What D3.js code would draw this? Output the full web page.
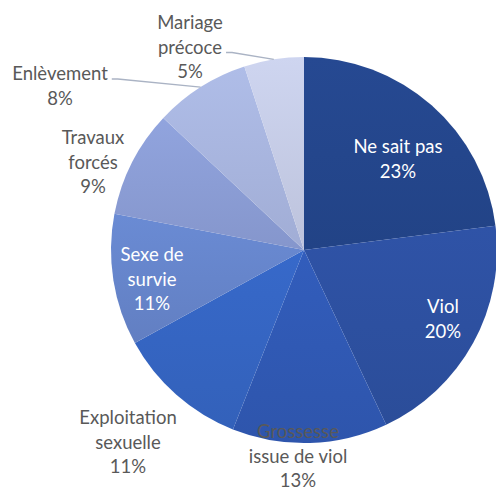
<!DOCTYPE html>
<html>
<head>
<meta charset="utf-8">
<script src="https://cdn.jsdelivr.net/npm/d3@7"></script>
<style>
  body { margin: 0; background: #fff; }
  svg text { font-family: Lato, "Open Sans", sans-serif; font-size: 18.5px; }
</style>
</head>
<body>
<div id="chart"></div>
<script>
// Categories (label lines) and shares in %
const categories = [
  ["Ne sait pas"],
  ["Viol"],
  ["Grossesse", "issue de viol"],
  ["Exploitation", "sexuelle"],
  ["Sexe de", "survie"],
  ["Travaux", "forcés"],
  ["Enlèvement"],
  ["Mariage", "précoce"]
];
const values = [23, 20, 13, 11, 11, 9, 8, 5];
const colors = ["#24468c", "#2d50a0", "#3059b4", "#3565c2", "#6685cb", "#8b9dd5", "#a8b5de", "#c5cce6"];

// label placement relative to pie centre (x, y of first line) and text colour
const labelLayout = [
  { x: 94, y: -103, fill: "#fff" },
  { x: 139, y: 57, fill: "#fff" },
  { x: -6, y: 182, fill: "#595959" },
  { x: -176, y: 168, fill: "#595959" },
  { x: -152, y: 5, fill: "#fff" },
  { x: -211, y: -112, fill: "#595959" },
  { x: -244, y: -176, fill: "#595959", leader: true },
  { x: -114, y: -227, fill: "#595959", leader: true }
];

const W = 496, H = 490;
const cx = 304, cy = 250, r = 193;
const lineH = 24.5;

const svg = d3.select("#chart").append("svg")
  .attr("width", W).attr("height", H);

const defs = svg.append("defs");
colors.forEach((c, i) => {
  const g = defs.append("linearGradient")
    .attr("id", "grad" + i)
    .attr("x1", 0).attr("y1", 0).attr("x2", 0).attr("y2", 1);
  g.append("stop").attr("offset", "0%").attr("stop-color", d3.color(c).brighter(0.12));
  g.append("stop").attr("offset", "100%").attr("stop-color", d3.color(c).darker(0.12));
});

const pie = d3.pie().sort(null).value(d => d)(values);
const arc = d3.arc().innerRadius(0).outerRadius(r);

const g = svg.append("g").attr("transform", `translate(${cx},${cy})`);

g.selectAll("path.slice")
  .data(pie)
  .join("path")
  .attr("class", "slice")
  .attr("d", arc)
  .attr("fill", (d, i) => `url(#grad${i})`);

const lineLayer = g.append("g");

// labels
const edgeArc = d3.arc().innerRadius(r).outerRadius(r);
pie.forEach((d, i) => {
  const L = labelLayout[i];
  const lines = categories[i].concat([values[i] + "%"]);
  const t = g.append("text")
    .attr("text-anchor", "middle")
    .attr("fill", L.fill)
    .attr("x", L.x)
    .attr("y", L.y);
  const spans = lines.map((s, k) => t.append("tspan")
    .attr("x", L.x)
    .attr("y", L.y + k * lineH)
    .attr("dy", "0.35em")
    .text(s));

  // leader line from end of the last name line to the slice edge
  if (L.leader) {
    const k = categories[i].length - 1;
    const w = spans[k].node().getComputedTextLength();
    const sx = L.x + w / 2 + 4;
    const sy = L.y + k * lineH + 5;
    const end = edgeArc.centroid(d);
    lineLayer.append("polyline")
      .attr("points", [[sx, sy], [sx + 6, sy], end].map(p => p.join(",")).join(" "))
      .attr("fill", "none")
      .attr("stroke", "#aab3c4")
      .attr("stroke-width", 1.3);
  }
});
</script>
</body>
</html>
